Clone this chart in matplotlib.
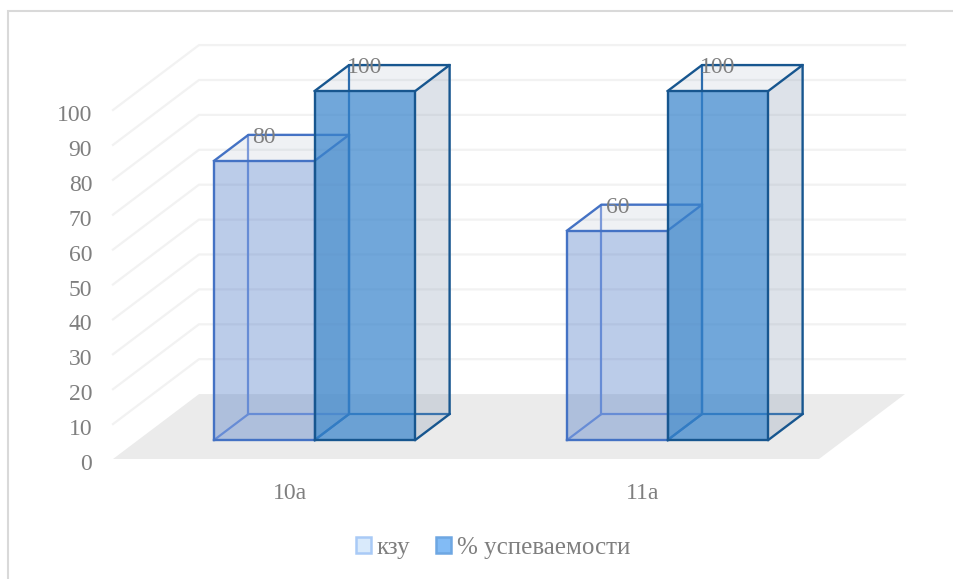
import matplotlib.pyplot as plt
from matplotlib.patches import Patch, Polygon, Rectangle
from matplotlib.transforms import ScaledTranslation

plt.rcParams['font.family'] = ['Liberation Serif', 'DejaVu Serif']

categories = ['10а', '11а']
kzu = [80, 60]
uspev = [100, 100]
series_names = ['кзу', '% успеваемости']
y_ticks = [0, 10, 20, 30, 40, 50, 60, 70, 80, 90, 100]

TEXT = '#7f7f7f'
# oblique shift of the floor depth, in axis units
DX = 0.2436
DY = 18.6
D0, D1 = 0.292, 0.692
WID = 0.285


def pt(x, v, d):
    # front-plane point (x, value) pushed back to depth d
    return (x + DX * d, v + DY * d)


def draw_box(ax, x0, val, edge, fill, alpha, inner, z):
    x1 = x0 + WID
    f0, f1 = D0, D1
    # hidden edges first
    for a, b in [(pt(x0, 0, f1), pt(x0, val, f1)),
                 (pt(x0, 0, f1), pt(x1, 0, f1)),
                 (pt(x0, 0, f0), pt(x0, 0, f1))]:
        ax.plot([a[0], b[0]], [a[1], b[1]], color=inner, lw=1.6, zorder=z, clip_on=False,
                solid_capstyle='round')
    # right side
    ax.add_patch(Polygon([pt(x1, 0, f0), pt(x1, 0, f1), pt(x1, val, f1), pt(x1, val, f0)],
                         facecolor='#8497b0', alpha=0.27, edgecolor='none', zorder=z + 1, clip_on=False))
    # top
    ax.add_patch(Polygon([pt(x0, val, f0), pt(x1, val, f0), pt(x1, val, f1), pt(x0, val, f1)],
                         facecolor='#8497b0', alpha=0.13, edgecolor='none', zorder=z + 1, clip_on=False))
    # front
    ax.add_patch(Polygon([pt(x0, 0, f0), pt(x1, 0, f0), pt(x1, val, f0), pt(x0, val, f0)],
                         facecolor=fill, alpha=alpha, edgecolor='none', zorder=z + 2, clip_on=False))
    # visible outline
    outline = [
        [pt(x0, 0, f0), pt(x1, 0, f0), pt(x1, val, f0), pt(x0, val, f0), pt(x0, 0, f0)],
        [pt(x0, val, f0), pt(x0, val, f1), pt(x1, val, f1), pt(x1, val, f0)],
        [pt(x1, val, f1), pt(x1, 0, f1), pt(x1, 0, f0)],
    ]
    for line in outline:
        ax.plot([p[0] for p in line], [p[1] for p in line], color=edge, lw=1.7, zorder=z + 3,
                clip_on=False, solid_joinstyle='round')


fig = plt.figure(figsize=(9.54, 5.79), dpi=100)
ax = fig.add_axes([113 / 954, 1 - 459 / 579, 706 / 954, 349 / 579])
ax.set_xlim(0, 2)
ax.set_ylim(0, 100)
ax.patch.set_visible(False)
for s in ax.spines.values():
    s.set_visible(False)

# chart frame
fig.add_artist(Rectangle((8 / 954, -0.01), 1, 1 - 11 / 579 + 0.01, transform=fig.transFigure,
                         facecolor='none', edgecolor='#d9d9d9', lw=1.5))

# floor
ax.add_patch(Polygon([pt(0, 0, 0), pt(2, 0, 0), pt(2, 0, 1), pt(0, 0, 1)],
                     facecolor='#ebebeb', edgecolor='none', zorder=1, clip_on=False))

# wall gridlines
for v in y_ticks[1:]:
    a, b, c = pt(0, v, 0), pt(0, v, 1), pt(2, v, 1)
    ax.plot([a[0], b[0], c[0]], [a[1], b[1], c[1]], color='#f2f2f2', lw=1.6, zorder=2, clip_on=False)

for i, name in enumerate(categories):
    left = i + 0.5 - WID
    draw_box(ax, left, kzu[i], '#4472c4', '#4472c4', 0.36, '#7c9be0', 4)
    draw_box(ax, i + 0.5, uspev[i], '#17568f', '#3a85cc', 0.72, '#1f66ad', 10)

    # value labels sit over the front centre of the bar, at the back top edge
    xt = pt(left + WID / 2, 0, D0)[0]
    yt = pt(0, kzu[i], D1)[1]
    ax.annotate(str(kzu[i]), (xt, yt), xytext=(0, -2), textcoords='offset points', ha='center',
                va='center', fontsize=17, color=TEXT, zorder=20, annotation_clip=False)
    xt = pt(i + 0.5 + WID / 2, 0, D0)[0]
    yt = pt(0, uspev[i], D1)[1]
    ax.annotate(str(uspev[i]), (xt, yt), xytext=(0, -2), textcoords='offset points', ha='center',
                va='center', fontsize=17, color=TEXT, zorder=20, annotation_clip=False)

ax.set_yticks(y_ticks)
ax.set_yticklabels([str(v) for v in y_ticks], fontsize=17, color=TEXT)
ax.set_xticks([0.5, 1.5])
ax.set_xticklabels(categories, fontsize=17, color=TEXT)
ax.tick_params(axis='y', length=0, pad=15)
ax.tick_params(axis='x', length=0, pad=17)

# y labels sit a little below their tick height
shift = ScaledTranslation(0, -3 / 100, fig.dpi_scale_trans)
for lab in ax.get_yticklabels():
    lab.set_transform(lab.get_transform() + shift)

handles = [Patch(facecolor='#d9eafb', edgecolor='#a9caf6', lw=1.8),
           Patch(facecolor='#82bbf5', edgecolor='#6ea7e2', lw=1.8)]
fig.legend(handles, series_names, loc='center', bbox_to_anchor=(493 / 954, 1 - 548 / 579), ncol=2,
           frameon=False, fontsize=18, labelcolor=TEXT, handlelength=0.6, handleheight=0.6,
           handletextpad=0.25, columnspacing=1.0, borderpad=0)

fig.savefig('out.png', dpi=100)
